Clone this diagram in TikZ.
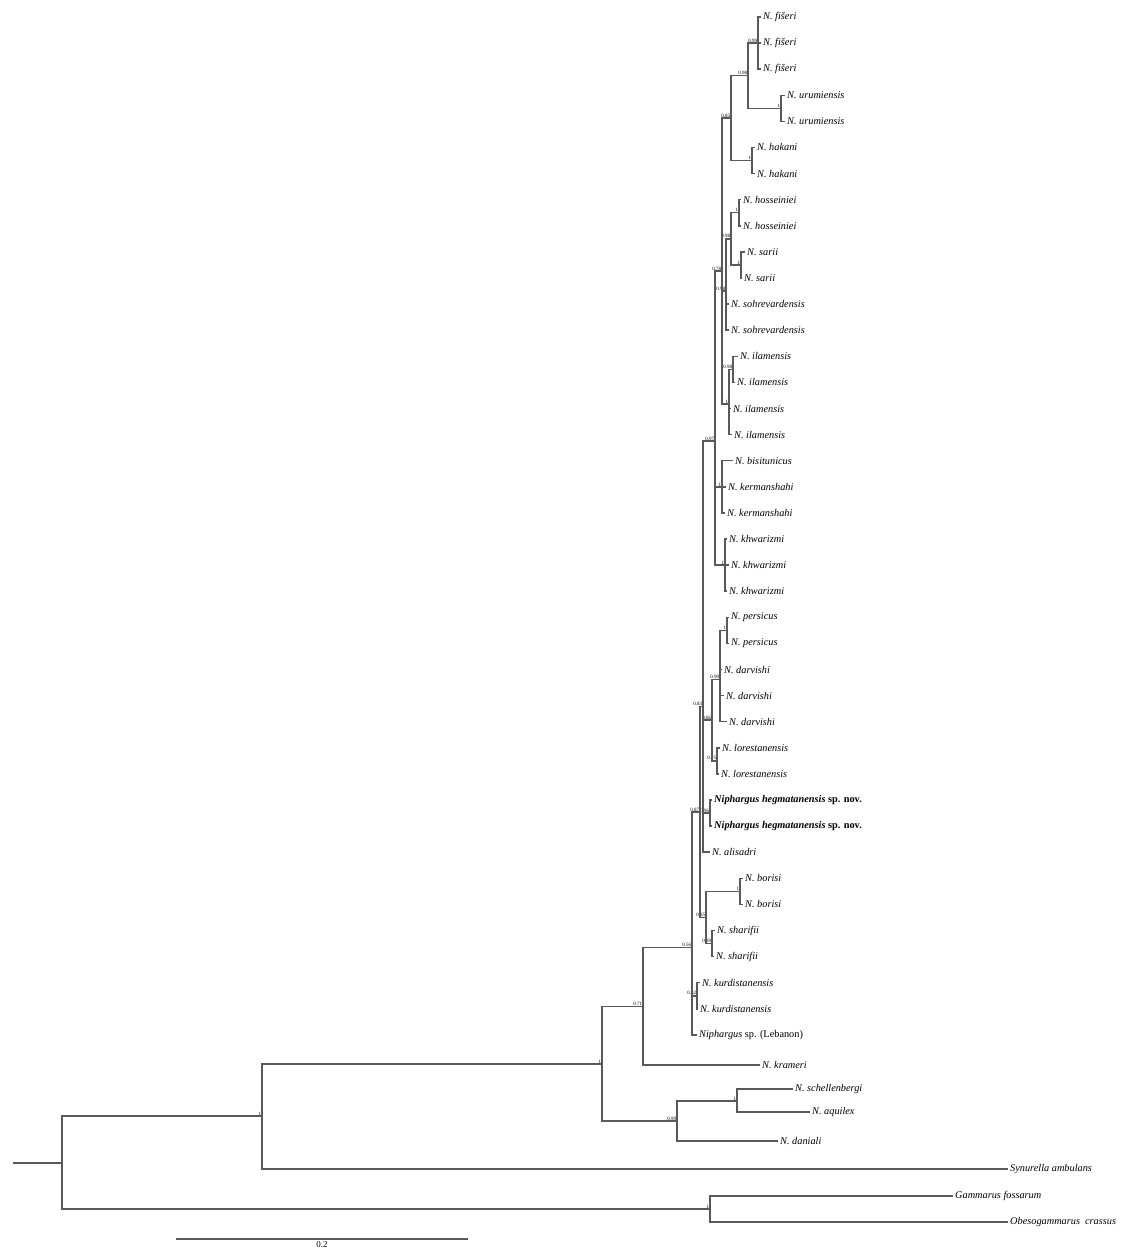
\documentclass[tikz,border=0pt]{standalone}
\usepackage{fontspec}
\setmainfont{Liberation Serif}
\usetikzlibrary{positioning}

\begin{document}
\begin{tikzpicture}[x=1pt,y=-1pt,
  branch/.style={draw=black!65,line width=1.5pt},
  leaf/.style={anchor=west,inner sep=2pt,font=\fontsize{10.3}{12}\selectfont\itshape},
  supp/.style={anchor=south east,inner sep=0.6pt,font=\fontsize{5}{6}\selectfont}]
  \useasboundingbox (0,0) rectangle (1124,1249);

  % tips
  \node[leaf] (fis1)  at (761,17.0)   {N. fišeri};
  \node[leaf] (fis2)  at (761,43.1)   {N. fišeri};
  \node[leaf] (fis3)  at (761,69.2)   {N. fišeri};
  \node[leaf] (uru1)  at (785,95.3)   {N. urumiensis};
  \node[leaf] (uru2)  at (785,121.4)  {N. urumiensis};
  \node[leaf] (hak1)  at (755,147.5)  {N. hakani};
  \node[leaf] (hak2)  at (755,173.6)  {N. hakani};
  \node[leaf] (hos1)  at (741,199.7)  {N. hosseiniei};
  \node[leaf] (hos2)  at (741,225.8)  {N. hosseiniei};
  \node[leaf] (sar1)  at (745,251.9)  {N. sarii};
  \node[leaf] (sar2)  at (742,278.0)  {N. sarii};
  \node[leaf] (soh1)  at (729,304.1)  {N. sohrevardensis};
  \node[leaf] (soh2)  at (729,330.2)  {N. sohrevardensis};
  \node[leaf] (ilm1)  at (738,356.3)  {N. ilamensis};
  \node[leaf] (ilm2)  at (735,382.4)  {N. ilamensis};
  \node[leaf] (ilm3)  at (731,408.5)  {N. ilamensis};
  \node[leaf] (ilm4)  at (732,434.6)  {N. ilamensis};
  \node[leaf] (bis)   at (733,460.7)  {N. bisitunicus};
  \node[leaf] (ker1)  at (726,486.8)  {N. kermanshahi};
  \node[leaf] (ker2)  at (725,512.9)  {N. kermanshahi};
  \node[leaf] (khw1)  at (727,539.0)  {N. khwarizmi};
  \node[leaf] (khw2)  at (729,565.1)  {N. khwarizmi};
  \node[leaf] (khw3)  at (727,591.2)  {N. khwarizmi};
  \node[leaf] (per1)  at (729,617.3)  {N. persicus};
  \node[leaf] (per2)  at (729,643.4)  {N. persicus};
  \node[leaf] (dar1)  at (722,669.5)  {N. darvishi};
  \node[leaf] (dar2)  at (724,695.6)  {N. darvishi};
  \node[leaf] (dar3)  at (727,721.7)  {N. darvishi};
  \node[leaf] (lor1)  at (720,747.8)  {N. lorestanensis};
  \node[leaf] (lor2)  at (719,773.9)  {N. lorestanensis};
  \node[leaf] (heg1)  at (712,800.0)  {\bfseries Niphargus hegmatanensis \upshape sp. nov.};
  \node[leaf] (heg2)  at (712,826.1)  {\bfseries Niphargus hegmatanensis \upshape sp. nov.};
  \node[leaf] (alis)  at (710,852.2)  {N. alisadri};
  \node[leaf] (bor1)  at (743,878.3)  {N. borisi};
  \node[leaf] (bor2)  at (743,904.4)  {N. borisi};
  \node[leaf] (sha1)  at (715,930.5)  {N. sharifii};
  \node[leaf] (sha2)  at (714,956.6)  {N. sharifii};
  \node[leaf] (kur1)  at (700,982.7)  {N. kurdistanensis};
  \node[leaf] (kur2)  at (698,1008.8) {N. kurdistanensis};
  \node[leaf] (leb)   at (697,1034.9) {Niphargus \upshape sp. (Lebanon)};
  \node[leaf] (kram)  at (760,1065)   {N. krameri};
  \node[leaf] (schel) at (793,1089)   {N. schellenbergi};
  \node[leaf] (aqu)   at (810,1112)   {N. aquilex};
  \node[leaf] (dan)   at (778,1141)   {N. daniali};
  \node[leaf] (syn)   at (1008,1169)  {Synurella ambulans};
  \node[leaf] (gam)   at (953,1196)   {Gammarus fossarum};
  \node[leaf] (obe)   at (1008,1222)  {Obesogammarus\ \ crassus};

  % inner nodes
  \coordinate (nFis)  at (758,43.1);
  \coordinate (nUru)  at (781,108.35);
  \coordinate (n098a) at (748,75.7);
  \coordinate (nHak)  at (752,160.55);
  \coordinate (n085a) at (731,118.1);
  \coordinate (nHos)  at (739,212.75);
  \coordinate (nSar)  at (741,264.95);
  \coordinate (n098b) at (731,238.85);
  \coordinate (n098c) at (726,291.05);
  \coordinate (nIl2)  at (733,369.35);
  \coordinate (nIl)   at (729,404.15);
  \coordinate (n078)  at (722,271.1);
  \coordinate (nKer)  at (722,486.8);
  \coordinate (nKhw)  at (725,565.1);
  \coordinate (n097)  at (715,441.0);
  \coordinate (nPer)  at (727,630.35);
  \coordinate (n099)  at (720,679.3);
  \coordinate (nLor)  at (717,760.85);
  \coordinate (n086)  at (712,720.1);
  \coordinate (nHeg)  at (710,813.05);
  \coordinate (n083)  at (703,706.6);
  \coordinate (nBor)  at (740,891.35);
  \coordinate (nSha)  at (712,943.55);
  \coordinate (n085b) at (706,917.45);
  \coordinate (n087)  at (700,812.0);
  \coordinate (nKur)  at (697,995.75);
  \coordinate (n056)  at (692,947.55);
  \coordinate (n071)  at (643,1006.3);
  \coordinate (nAqu)  at (737,1101);
  \coordinate (n099d) at (677,1121);
  \coordinate (nB)    at (602,1064);
  \coordinate (nA)    at (262,1116);
  \coordinate (nGam)  at (710,1209);
  \coordinate (root)  at (62,1163);
  \coordinate (stub)  at (13,1163);

  % support values
  \node[supp] (sFis)  at (nFis)  {0.99};
  \node[supp] (sUru)  at (nUru)  {1};
  \node[supp] (s098a) at (n098a) {0.98};
  \node[supp] (sHak)  at (nHak)  {1};
  \node[supp] (s085a) at (n085a) {0.85};
  \node[supp] (sHos)  at (nHos)  {1};
  \node[supp] (sSar)  at (nSar)  {1};
  \node[supp] (s098b) at (n098b) {0.98};
  \node[supp] (s098c) at (n098c) {0.98};
  \node[supp] (sIl2)  at (nIl2)  {0.98};
  \node[supp] (sIl)   at (nIl)   {1};
  \node[supp] (s078)  at (n078)  {0.78};
  \node[supp] (sKer)  at (nKer)  {1};
  \node[supp] (sKhw)  at (nKhw)  {1};
  \node[supp] (s097)  at (n097)  {0.97};
  \node[supp] (sPer)  at (nPer)  {1};
  \node[supp] (s099)  at (n099)  {0.99};
  \node[supp] (sLor)  at (nLor)  {0.75};
  \node[supp] (s086)  at (n086)  {0.86};
  \node[supp] (sHeg)  at (nHeg)  {0.96};
  \node[supp] (s083)  at (n083)  {0.83};
  \node[supp] (sBor)  at (nBor)  {1};
  \node[supp] (sSha)  at (nSha)  {0.89};
  \node[supp] (s085b) at (n085b) {0.85};
  \node[supp] (s087)  at (n087)  {0.87};
  \node[supp] (sKur)  at (nKur)  {0.82};
  \node[supp] (s056)  at (n056)  {0.56};
  \node[supp] (s071)  at (n071)  {0.71};
  \node[supp] (sAqu)  at (nAqu)  {1};
  \node[supp] (s099d) at (n099d) {0.99};
  \node[supp] (sB)    at (nB)    {1};
  \node[supp] (sA)    at (nA)    {1};
  \node[supp] (sGam)  at (nGam)  {1};

  % branches
  \draw[branch] (nFis) |- (fis1) (nFis) |- (fis2) (nFis) |- (fis3)
                (nUru) |- (uru1) (nUru) |- (uru2)
                (n098a) |- (nFis) (n098a) |- (nUru)
                (nHak) |- (hak1) (nHak) |- (hak2)
                (n085a) |- (n098a) (n085a) |- (nHak)
                (nHos) |- (hos1) (nHos) |- (hos2)
                (nSar) |- (sar1) (nSar) |- (sar2)
                (n098b) |- (nHos) (n098b) |- (nSar)
                (n098c) |- (n098b) (n098c) |- (soh1) (n098c) |- (soh2)
                (nIl2) |- (ilm1) (nIl2) |- (ilm2)
                (nIl) |- (nIl2) (nIl) |- (ilm3) (nIl) |- (ilm4)
                (n078) |- (n085a) (n078) |- (n098c) (n078) |- (nIl)
                (nKer) |- (bis) (nKer) |- (ker1) (nKer) |- (ker2)
                (nKhw) |- (khw1) (nKhw) |- (khw2) (nKhw) |- (khw3)
                (n097) |- (n078) (n097) |- (nKer) (n097) |- (nKhw)
                (nPer) |- (per1) (nPer) |- (per2)
                (n099) |- (nPer) (n099) |- (dar1) (n099) |- (dar2) (n099) |- (dar3)
                (nLor) |- (lor1) (nLor) |- (lor2)
                (n086) |- (n099) (n086) |- (nLor)
                (nHeg) |- (heg1) (nHeg) |- (heg2)
                (n083) |- (n097) (n083) |- (n086) (n083) |- (nHeg) (n083) |- (alis)
                (nBor) |- (bor1) (nBor) |- (bor2)
                (nSha) |- (sha1) (nSha) |- (sha2)
                (n085b) |- (nBor) (n085b) |- (nSha)
                (n087) |- (n083) (n087) |- (n085b)
                (nKur) |- (kur1) (nKur) |- (kur2)
                (n056) |- (n087) (n056) |- (nKur) (n056) |- (leb)
                (n071) |- (n056) (n071) |- (kram)
                (nAqu) |- (schel) (nAqu) |- (aqu)
                (n099d) |- (nAqu) (n099d) |- (dan)
                (nB) |- (n071) (nB) |- (n099d)
                (nA) |- (nB) (nA) |- (syn)
                (nGam) |- (gam) (nGam) |- (obe)
                (root) |- (nA) (root) |- (nGam)
                (stub) -- (root);

  % scale bar
  \coordinate (bar1) at (176,1239);
  \coordinate (bar2) at (468,1239);
  \draw[branch] (bar1) -- (bar2);
  \node[anchor=north,inner sep=0pt,font=\fontsize{9}{10}\selectfont] (barlab) at (322,1241) {0.2};
\end{tikzpicture}
\end{document}
